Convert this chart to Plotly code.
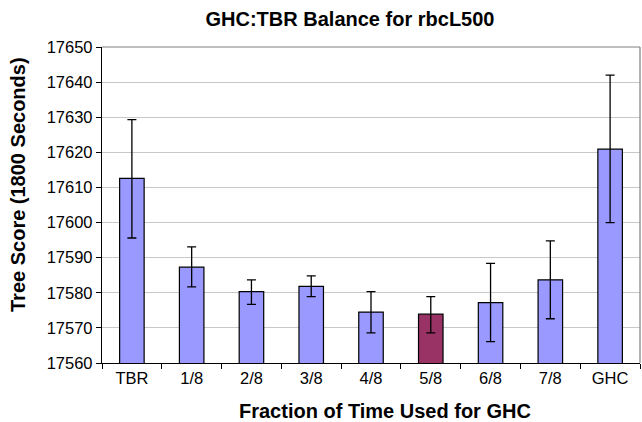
import plotly.graph_objects as go

categories = ["TBR", "1/8", "2/8", "3/8", "4/8", "5/8", "6/8", "7/8", "GHC"]
scores = [17612.6, 17587.3, 17580.3, 17581.8, 17574.5, 17573.9, 17577.2, 17583.7, 17620.9]
err_plus = [16.7, 5.8, 3.4, 3.0, 5.8, 5.0, 11.2, 11.1, 21.1]
err_minus = [17.0, 5.6, 3.6, 2.9, 5.9, 5.3, 11.1, 11.1, 20.9]
colors = ["#9999FF"] * 9
colors[5] = "#993366"

FONT = "Liberation Sans, Arial, sans-serif"

fig = go.Figure()
fig.add_trace(go.Bar(
    x=categories, y=scores,
    marker=dict(color=colors, line=dict(color="black", width=1.2)),
    error_y=dict(type="data", symmetric=False, array=err_plus, arrayminus=err_minus,
                 color="black", thickness=1.3, width=4.5),
))

fig.update_layout(
    width=642, height=422,
    margin=dict(l=102, r=2, t=47, b=59, autoexpand=False),
    paper_bgcolor="white", plot_bgcolor="white",
    bargap=0.59,
    showlegend=False,
    font=dict(family=FONT, size=16, color="black"),
    title=dict(text="<b>GHC:TBR Balance for rbcL500</b>", xref="container", x=350 / 642,
               xanchor="center", yref="container", y=1 - 19 / 422, yanchor="middle",
               font=dict(size=20, family=FONT)),
    xaxis=dict(
        type="category", tickson="boundaries", ticks="outside", ticklen=5,
        tickcolor="black", showline=True, linecolor="black", linewidth=1.3,
        showgrid=False, tickfont=dict(size=16.5),
    ),
    yaxis=dict(
        range=[17560, 17650], dtick=10, tick0=17560, ticks="outside", ticklen=5,
        tickcolor="black", showline=True, linecolor="black", linewidth=1.3,
        showgrid=True, gridcolor="#C8C8C8", gridwidth=1, zeroline=False,
        tickfont=dict(size=16.5), tickformat="d",
    ),
    annotations=[
        dict(text="<b>Fraction of Time Used for GHC</b>", xref="paper", yref="paper",
             x=(384.5 - 102) / 538, y=-(411 - 363) / 316, xanchor="center", yanchor="middle",
             showarrow=False, font=dict(size=20, family=FONT)),
        dict(text="<b>Tree Score (1800 Seconds)</b>", xref="paper", yref="paper",
             x=(18 - 102) / 538, y=(363 - 185) / 316, xanchor="center", yanchor="middle",
             textangle=-90, showarrow=False, font=dict(size=20, family=FONT)),
    ],
    shapes=[
        dict(type="line", xref="paper", yref="paper", x0=0, x1=1, y0=1, y1=1,
             line=dict(color="#808080", width=1.2), layer="above"),
        dict(type="line", xref="paper", yref="paper", x0=1, x1=1, y0=0, y1=1,
             line=dict(color="#808080", width=1.2), layer="above"),
    ],
)

fig.write_html("out.html", config={"displayModeBar": False},
               post_script="document.body.style.margin='0';document.body.style.overflow='hidden';")
